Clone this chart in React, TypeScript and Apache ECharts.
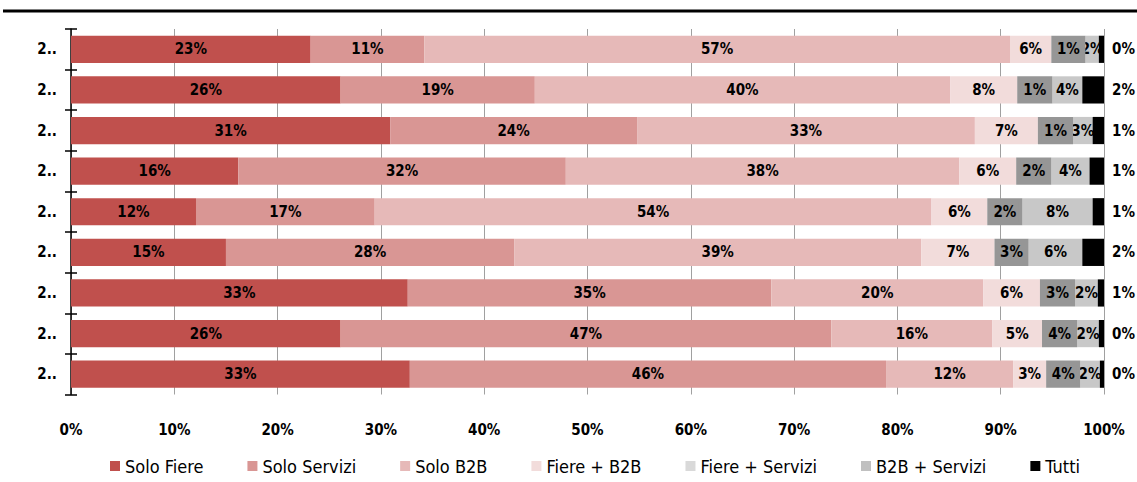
import React, { useEffect, useRef } from "react";
import * as echarts from "echarts";

const categories = ["2..", "2..", "2..", "2..", "2..", "2..", "2..", "2..", "2.."];
const seriesNames = ["Solo Fiere", "Solo Servizi", "Solo B2B", "Fiere + B2B", "Fiere + Servizi", "B2B + Servizi", "Tutti"];

// bar widths (share of the bar, %) as drawn
const soloFiere = [23.2, 26.1, 30.9, 16.2, 12.1, 15.0, 32.6, 26.1, 32.8];
const soloServizi = [11.0, 18.8, 23.9, 31.7, 17.3, 27.9, 35.2, 47.5, 46.1];
const soloB2B = [56.7, 40.2, 32.7, 38.1, 53.9, 39.4, 20.5, 15.6, 12.3];
const fiereB2B = [4.0, 6.5, 6.1, 5.5, 5.4, 7.1, 5.5, 4.8, 3.2];
const fiereServizi = [3.3, 3.4, 3.4, 3.4, 3.4, 3.3, 3.4, 3.4, 3.3];
const b2bServizi = [1.3, 2.9, 1.9, 3.7, 6.8, 5.2, 2.2, 2.1, 1.9];
const tutti = [0.5, 2.1, 1.1, 1.4, 1.1, 2.1, 0.6, 0.5, 0.4];

// data labels as printed on the chart (%)
const lblSoloFiere = [23, 26, 31, 16, 12, 15, 33, 26, 33];
const lblSoloServizi = [11, 19, 24, 32, 17, 28, 35, 47, 46];
const lblSoloB2B = [57, 40, 33, 38, 54, 39, 20, 16, 12];
const lblFiereB2B = [6, 8, 7, 6, 6, 7, 6, 5, 3];
const lblFiereServizi = [1, 1, 1, 2, 2, 3, 3, 4, 4];
const lblB2BServizi = [2, 4, 3, 4, 8, 6, 2, 2, 2];
const lblTutti = [0, 2, 1, 1, 1, 2, 1, 0, 0];

const xTicks = [0, 10, 20, 30, 40, 50, 60, 70, 80, 90, 100];

const barColors = ["#C0504D", "#D99694", "#E6B9B8", "#F2DCDB", "#969696", "#C8C8C8", "#000000"];
const legendColors = ["#C0504D", "#D99694", "#E6B9B8", "#F2DCDB", "#D9D9D9", "#C0C0C0", "#000000"];

const FONT = "'Liberation Sans Narrow', 'Arial Narrow', 'DejaVu Sans Condensed', 'Liberation Sans', sans-serif";

export default function App() {
  const ref = useRef<HTMLDivElement>(null);
  useEffect(() => {
    if (!ref.current) return;
    const chart = echarts.init(ref.current, null, { renderer: "svg" });
    const values = [soloFiere, soloServizi, soloB2B, fiereB2B, fiereServizi, b2bServizi, tutti];
    const labels = [lblSoloFiere, lblSoloServizi, lblSoloB2B, lblFiereB2B, lblFiereServizi, lblB2BServizi, lblTutti];
    const series = seriesNames.map((name, i) => ({
      name,
      type: "bar",
      stack: "total",
      data: values[i],
      barCategoryGap: "33%",
      z: i === 4 ? 3 : 2,
      itemStyle: i === 4
        ? { color: barColors[i], borderColor: barColors[i], borderWidth: 4 }
        : { color: barColors[i] },
      label: {
        show: true,
        position: i === 6 ? "right" : "inside",
        distance: 8,
        color: "#000",
        fontFamily: FONT,
        fontWeight: "bold",
        fontSize: 15,
        formatter: (p: any) => labels[i][p.dataIndex] + "%",
      },
      emphasis: { disabled: true },
    }));
    chart.setOption({
      animation: false,
      grid: { left: 71, right: 33, top: 29, bottom: 87.5, containLabel: false },
      graphic: [
        {
          type: "line",
          shape: { x1: 3, y1: 11, x2: 1137, y2: 11 },
          style: { stroke: "#000", lineWidth: 3 },
        },
      ],
      legend: {
        bottom: 2,
        left: 105,
        itemWidth: 10,
        itemHeight: 10,
        itemGap: 44,
        icon: "rect",
        textStyle: { fontFamily: FONT, fontSize: 18, color: "#000" },
        data: seriesNames.map((n, i) => ({ name: n, itemStyle: { color: legendColors[i], borderWidth: 0 } })),
      },
      xAxis: {
        type: "value",
        min: xTicks[0],
        max: xTicks[xTicks.length - 1],
        interval: 10,
        axisLine: { show: false },
        axisTick: { show: false },
        splitLine: { show: true, lineStyle: { color: "#A0A0A0", width: 1 } },
        axisLabel: {
          margin: 28,
          fontFamily: FONT,
          fontWeight: "bold",
          fontSize: 15,
          color: "#000",
          formatter: (v: number) => v + "%",
        },
      },
      yAxis: [
        {
          type: "category",
          data: categories,
          inverse: true,
          axisLine: { show: true, lineStyle: { color: "#000", width: 1.5 } },
          axisTick: { show: true, length: 6, lineStyle: { color: "#000", width: 1.5 } },
          axisLabel: {
            margin: 14,
            fontFamily: FONT,
            fontWeight: "bold",
            fontSize: 15,
            color: "#000",
          },
        },
        {
          type: "category",
          data: categories,
          inverse: true,
          position: "left",
          axisLine: { show: false },
          axisTick: { show: true, inside: true, length: 6, lineStyle: { color: "#000", width: 1.5 } },
          axisLabel: { show: false },
        },
      ],
      series,
    });
    return () => chart.dispose();
  }, []);
  return (
    <div
      ref={ref}
      style={{ position: "fixed", left: 0, top: 0, width: 1137, height: 482, background: "#fff" }}
    />
  );
}
